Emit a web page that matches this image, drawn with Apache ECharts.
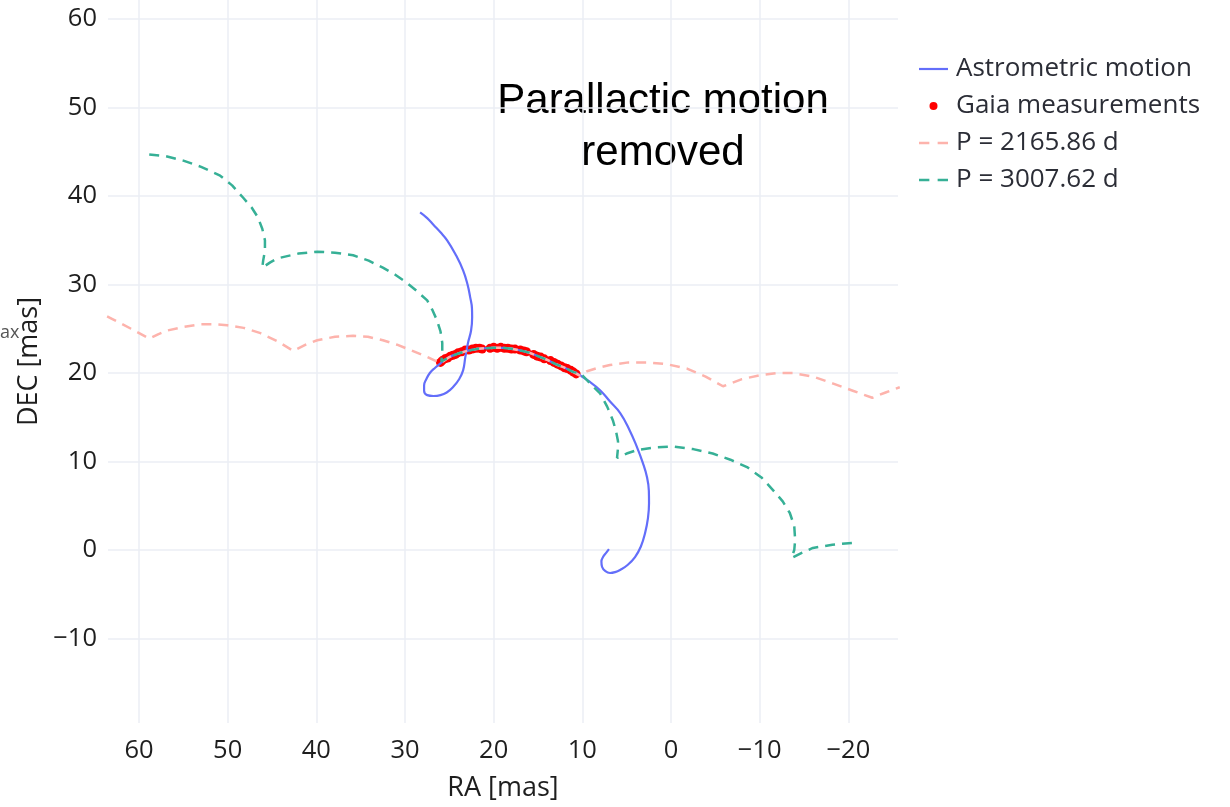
<!DOCTYPE html>
<html>
<head>
<meta charset="utf-8">
<script src="https://cdn.jsdelivr.net/npm/echarts@6/dist/echarts.min.js"></script>
<style>html,body{margin:0;padding:0;background:#fff;}#chart{width:1230px;height:807px;}</style>
</head>
<body>
<div id="chart"></div>
<script>
// ---- Data (RA, DEC in mas) ----
const seriesNames = ['Astrometric motion', 'Gaia measurements', 'P = 2165.86 d', 'P = 3007.62 d'];

const astroRA  = [28.3, 27.5, 26.8, 26.0, 25.25, 24.3, 23.45, 22.95, 22.66, 22.45, 22.43, 22.55, 22.9, 23.2, 23.45, 23.9, 24.6, 25.3, 26.0, 26.8, 27.5, 27.85, 27.85, 27.6, 27.2, 26.6, 26.0,
                  25.0, 24.0, 23.0, 22.0, 21.0, 20.0, 19.0, 18.0, 17.0, 16.0, 15.0, 14.0, 13.0, 12.0, 11.0, 10.6,
                  9.3, 8.0, 6.9, 5.75, 4.7, 3.83, 3.2, 2.7, 2.5, 2.48, 2.6, 2.93, 3.4, 4.06, 4.9, 5.75, 6.3, 6.88, 7.4, 7.78, 7.85, 7.67, 7.3, 7.0];
const astroDEC = [38.15, 37.5, 36.75, 35.9, 35.0, 33.4, 31.6, 30.0, 28.6, 27.3, 26.3, 24.8, 23.4, 21.8, 20.3, 19.3, 18.4, 17.8, 17.5, 17.4, 17.5, 18.0, 18.6, 19.3, 20.0, 20.6, 21.1,
                  21.8, 22.2, 22.5, 22.7, 22.8, 22.85, 22.85, 22.75, 22.55, 22.3, 21.9, 21.5, 21.0, 20.6, 20.1, 19.95,
                  19.1, 18.06, 16.8, 15.5, 13.6, 11.6, 9.9, 8.2, 6.7, 5.3, 3.6, 1.9, 0.4, -0.8, -1.7, -2.26, -2.5, -2.6, -2.4, -1.9, -1.3, -0.8, -0.3, 0.1];

const gaiaRA  = [26.0, 25.8, 25.5, 25.2, 24.9, 24.6, 24.3, 24.0, 23.6, 23.2, 22.8, 22.4, 22.0, 21.6, 21.3,
                 20.4, 20.0, 19.6, 19.2, 18.8, 18.4, 18.0, 17.6, 17.0, 16.6, 16.3,
                 15.5, 15.1, 14.7, 14.3, 13.6, 13.2, 12.8, 12.4, 12.0, 11.7, 11.3, 11.0, 10.7];
const gaiaDEC = [21.2, 21.4, 21.6, 21.7, 21.9, 22.0, 22.1, 22.3, 22.4, 22.6, 22.6, 22.7, 22.8, 22.8, 22.7,
                 22.8, 22.9, 22.8, 22.9, 22.8, 22.8, 22.7, 22.7, 22.6, 22.5, 22.4,
                 22.1, 21.9, 21.8, 21.6, 21.4, 21.2, 21.0, 20.8, 20.6, 20.5, 20.3, 20.1, 19.9];

const p1RA  = [63.6, 63.0, 60.9, 58.85, 57.8, 56.8, 55.0, 53.1, 51.5, 50.05, 48.2, 46.3, 44.4, 42.6, 41.2, 39.9, 37.9, 35.85, 34.2, 32.5, 30.9, 29.4, 27.7, 26.0,
               25.0, 24.0, 23.0, 22.0, 21.0, 20.0, 19.0, 18.0, 17.0, 16.0, 15.0, 14.0, 13.0, 12.0, 11.0, 10.3,
               9.47, 8.2, 6.9, 4.8, 2.7, 0.5, -1.8, -3.9, -5.86, -8.0, -10.0, -12.0, -13.75, -16.0, -18.3, -20.5, -22.7, -24.2, -25.8];
const p1DEC = [26.4, 26.1, 25.0, 23.9, 24.4, 24.8, 25.2, 25.5, 25.5, 25.4, 25.1, 24.5, 23.6, 22.5, 23.2, 23.7, 24.1, 24.2, 24.1, 23.7, 23.2, 22.6, 21.9, 21.1,
               21.8, 22.2, 22.5, 22.7, 22.8, 22.85, 22.85, 22.75, 22.55, 22.3, 21.9, 21.5, 21.0, 20.6, 20.1, 19.7,
               20.2, 20.6, 20.9, 21.2, 21.2, 21.0, 20.5, 19.6, 18.5, 19.3, 19.75, 20.0, 20.0, 19.6, 18.8, 18.0, 17.2, 17.8, 18.4];

const p2RA  = [58.85, 57.0, 55.0, 53.0, 50.85, 49.5, 48.25, 47.3, 46.6, 46.1, 45.8, 45.8, 46.0, 46.1, 45.2, 44.4, 42.0, 39.9, 37.9, 35.85, 34.1, 32.5, 31.1, 29.8, 28.6, 27.5, 26.9, 26.4, 26.0, 25.8, 25.8, 25.9,
               25.0, 24.0, 23.0, 22.0, 21.0, 20.0, 19.0, 18.0, 17.0, 16.0, 15.0, 14.0, 13.0, 12.0, 11.0, 10.26,
               9.2, 8.0, 7.2, 6.54, 6.2, 5.98, 6.0, 6.09, 5.0, 3.83, 1.8, -0.23, -2.5, -4.7, -6.7, -8.57, -10.2, -11.5, -12.6, -13.4, -13.9, -14.0, -13.9, -13.6, -14.8, -16.0, -18.2, -20.4];
const p2DEC = [44.7, 44.5, 44.0, 43.3, 42.3, 41.2, 39.8, 38.7, 37.6, 36.3, 35.0, 33.8, 32.7, 31.9, 32.5, 32.95, 33.5, 33.7, 33.6, 33.3, 32.7, 31.9, 31.1, 30.2, 29.2, 28.2, 27.1, 25.96, 24.7, 23.4, 22.4, 21.3,
               21.8, 22.2, 22.5, 22.7, 22.8, 22.85, 22.85, 22.75, 22.55, 22.3, 21.9, 21.5, 21.0, 20.6, 20.1, 20.0,
               18.9, 17.7, 16.2, 14.6, 13.4, 12.3, 11.3, 10.4, 10.9, 11.3, 11.6, 11.7, 11.4, 10.9, 10.2, 9.37, 8.2, 6.77, 5.5, 4.18, 2.7, 1.13, 0.0, -0.9, -0.3, 0.23, 0.6, 0.79];

const xRange = [-25.6, 63.5];
const yRange = [-19.55, 62.15];

// ---- Build ----
const zip = (a, b) => a.map((v, i) => [v, b[i]]);
const fmt = v => String(v).replace('-', '\u2212');
const tickFont = { fontFamily: 'Open Sans', fontSize: 25.5, color: '#1e1e1e' };
const gridColor = '#EBEEF5';
const solidIcon = 'path://M0,0H29V2.2H0Z';
const dashIcon = 'path://M0,0H10V2.5H0Z M18,0H28V2.5H18Z';

const chart = echarts.init(document.getElementById('chart'), null, { renderer: 'canvas' });
chart.setOption({
  animation: false,
  backgroundColor: '#fff',
  grid: { left: 108, right: 332, top: 0, bottom: 84, containLabel: false },
  xAxis: {
    type: 'value', inverse: true, min: xRange[0], max: xRange[1], splitNumber: 9,
    axisLine: { show: false }, axisTick: { show: false },
    axisLabel: Object.assign({ margin: 15, showMinLabel: false, showMaxLabel: false, formatter: fmt }, tickFont),
    splitLine: { show: true, showMinLine: false, showMaxLine: false, lineStyle: { color: gridColor, width: 1.5 } },
    name: 'RA [mas]', nameLocation: 'middle', nameGap: 52,
    nameTextStyle: { fontFamily: 'Open Sans', fontSize: 27, color: '#1e1e1e' }
  },
  yAxis: {
    type: 'value', min: yRange[0], max: yRange[1], splitNumber: 8,
    axisLine: { show: false }, axisTick: { show: false },
    axisLabel: Object.assign({ margin: 11, showMinLabel: false, showMaxLabel: false, formatter: fmt }, tickFont),
    splitLine: { show: true, showMinLine: false, showMaxLine: false, lineStyle: { color: gridColor, width: 1.5 } },
    name: 'DEC [mas]', nameLocation: 'middle', nameGap: 62,
    nameTextStyle: { fontFamily: 'Open Sans', fontSize: 27, color: '#1e1e1e' }
  },
  legend: {
    orient: 'vertical', left: 919, top: 55, padding: 0, itemWidth: 29, itemHeight: 8, itemGap: 9,
    textStyle: { fontFamily: 'Open Sans', fontSize: 26, color: '#2b2d36', lineHeight: 28, padding: [0, 0, 0, 3] },
    data: [
      { name: seriesNames[0], icon: solidIcon },
      { name: seriesNames[1], icon: 'circle' },
      { name: seriesNames[2], icon: dashIcon },
      { name: seriesNames[3], icon: dashIcon }
    ]
  },
  graphic: [
    { type: 'text', left: 0, top: 324, style: { text: 'ax', font: '18px "Open Sans"', fill: '#555' } },
    { type: 'text', x: 663, y: 75, style: { text: 'Parallactic motion\nremoved', font: '42px "Liberation Sans"', fill: '#000', align: 'center', verticalAlign: 'top', lineHeight: 52 } }
  ],
  series: [
    { name: seriesNames[0], type: 'line', data: zip(astroRA, astroDEC), showSymbol: false, symbol: 'none', smooth: 0.45,
      lineStyle: { color: '#636efa', width: 2.2 }, itemStyle: { color: '#636efa' } },
    { name: seriesNames[1], type: 'scatter', data: zip(gaiaRA, gaiaDEC), symbolSize: 9,
      itemStyle: { color: '#ff0000', opacity: 1 } },
    { name: seriesNames[2], type: 'line', data: zip(p1RA, p1DEC), showSymbol: false, symbol: 'none',
      lineStyle: { color: '#FDB3AC', width: 2.5, type: [10, 7] }, itemStyle: { color: '#FDB3AC' } },
    { name: seriesNames[3], type: 'line', data: zip(p2RA, p2DEC), showSymbol: false, symbol: 'none',
      lineStyle: { color: '#36B096', width: 2.5, type: [10, 7] }, itemStyle: { color: '#36B096' } }
  ]
});
</script>
</body>
</html>
